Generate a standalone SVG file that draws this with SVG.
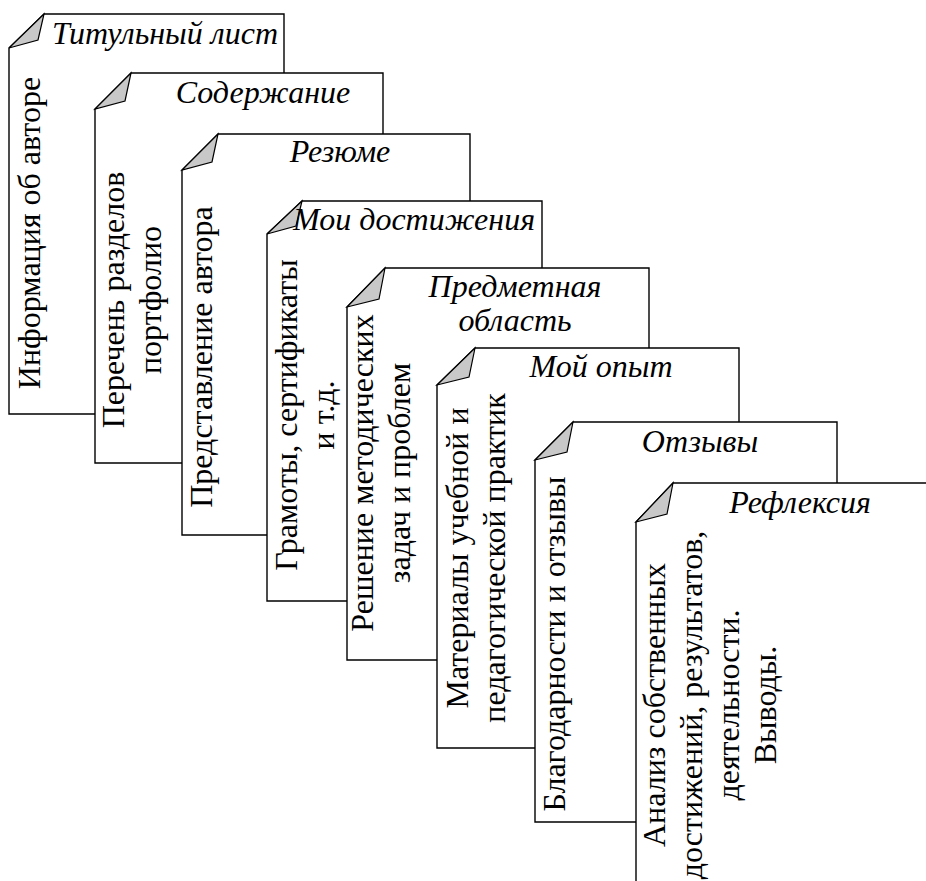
<svg xmlns="http://www.w3.org/2000/svg" width="926" height="881" viewBox="0 0 926 881" xml:lang="ru" lang="ru">
<style>
.page{fill:#fff;stroke:#000;stroke-width:1.4}
.fold{fill:#c8c8c8;stroke:#000;stroke-width:1.2}
.t{font-family:Liberation Serif,Times New Roman,serif;font-size:32px;text-anchor:middle;fill:#000}
.i{font-style:italic}
</style>
<rect width="926" height="881" fill="#fff"/>
<g id="pages">
<g id="p1">
<polygon class="page" points="44,14 284,14 284,414 9,414 9,48"/>
<polygon class="fold" points="44,14 38,40 9,48"/>
<text class="t i" x="165" y="44">Титульный лист</text>
<text class="t" transform="translate(40,233) rotate(-90)">Информация об авторе</text>
</g>
<g id="p2">
<polygon class="page" points="131,73 383,73 383,463 95,463 95,109"/>
<polygon class="fold" points="131,73 125,101 95,109"/>
<text class="t i" x="263" y="103">Содержание</text>
<text class="t" transform="translate(124,300) rotate(-90)">Перечень разделов</text>
<text class="t" transform="translate(161,300) rotate(-90)">портфолио</text>
</g>
<g id="p3">
<polygon class="page" points="218,134 470,134 470,535 182,535 182,170"/>
<polygon class="fold" points="218,134 212,162 182,170"/>
<text class="t i" x="340" y="162">Резюме</text>
<text class="t" transform="translate(212,357) rotate(-90)">Представление автора</text>
</g>
<g id="p4">
<polygon class="page" points="302,201 542,201 542,601 267,601 267,234"/>
<polygon class="fold" points="302,201 296,226 267,234"/>
<text class="t i" x="414" y="230">Мои достижения</text>
<text class="t" transform="translate(297,415) rotate(-90)">Грамоты, сертификаты</text>
<text class="t" transform="translate(334,415) rotate(-90)">и т.д.</text>
</g>
<g id="p5">
<polygon class="page" points="385,268 649,268 649,660 347,660 347,307"/>
<polygon class="fold" points="385,268 379,299 347,307"/>
<text class="t i" x="515" y="297">Предметная</text>
<text class="t i" x="515" y="331">область</text>
<text class="t" transform="translate(373,473) rotate(-90)">Решение методических</text>
<text class="t" transform="translate(410,473) rotate(-90)">задач и проблем</text>
</g>
<g id="p6">
<polygon class="page" points="475,348 739,348 739,748 437,748 437,385"/>
<polygon class="fold" points="475,348 469,377 437,385"/>
<text class="t i" x="601" y="377">Мой опыт</text>
<text class="t" transform="translate(468,558) rotate(-90)">Материалы учебной и</text>
<text class="t" transform="translate(505,558) rotate(-90)">педагогической практик</text>
</g>
<g id="p7">
<polygon class="page" points="573,422 837,422 837,822 535,822 535,460"/>
<polygon class="fold" points="573,422 567,452 535,460"/>
<text class="t i" x="700" y="452">Отзывы</text>
<text class="t" transform="translate(565,644) rotate(-90)">Благодарности и отзывы</text>
</g>
<g id="p8">
<polygon class="page" points="673,483 960,483 960,920 636,920 636,522"/>
<polygon class="fold" points="673,483 667,514 636,522"/>
<text class="t i" x="800" y="513">Рефлексия</text>
<text class="t" transform="translate(665,705) rotate(-90)">Анализ собственных</text>
<text class="t" transform="translate(702,705) rotate(-90)">достижений, результатов,</text>
<text class="t" transform="translate(739,705) rotate(-90)">деятельности.</text>
<text class="t" transform="translate(776,705) rotate(-90)">Выводы.</text>
</g>
</g>
<g id="connectors"/>
</svg>
